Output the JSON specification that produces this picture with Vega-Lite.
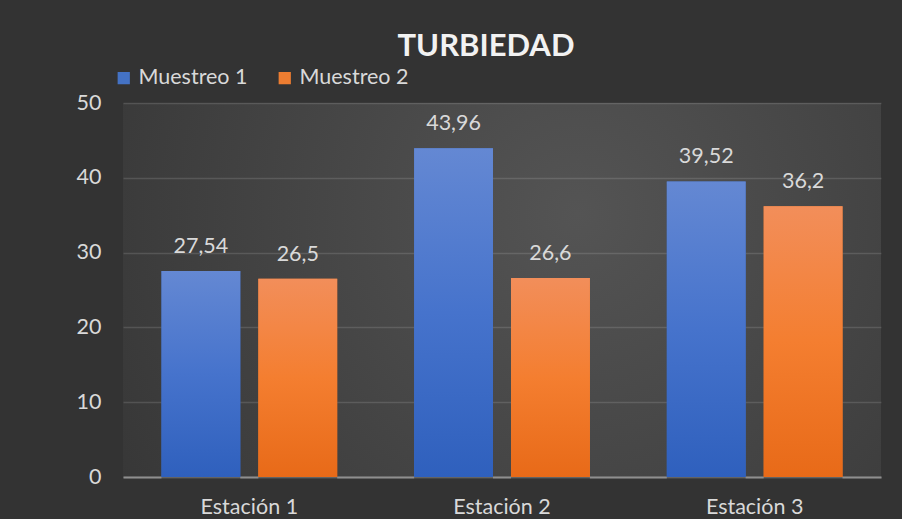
{
  "$schema": "https://vega.github.io/schema/vega-lite/v6.json",
  "width": 758,
  "height": 374,
  "autosize": {"type": "none"},
  "padding": {"left": 123, "top": 103, "right": 21, "bottom": 42},
  "background": "#333333",
  "data": {
    "values": [
      {"estacion": "Estación 1", "serie": "Muestreo 1", "valor": 27.54, "etiqueta": "27,54"},
      {"estacion": "Estación 1", "serie": "Muestreo 2", "valor": 26.5, "etiqueta": "26,5"},
      {"estacion": "Estación 2", "serie": "Muestreo 1", "valor": 43.96, "etiqueta": "43,96"},
      {"estacion": "Estación 2", "serie": "Muestreo 2", "valor": 26.6, "etiqueta": "26,6"},
      {"estacion": "Estación 3", "serie": "Muestreo 1", "valor": 39.52, "etiqueta": "39,52"},
      {"estacion": "Estación 3", "serie": "Muestreo 2", "valor": 36.2, "etiqueta": "36,2"}
    ]
  },
  "title": {
    "text": "TURBIEDAD",
    "font": "Lato",
    "fontSize": 31,
    "fontWeight": "bold",
    "color": "#f2f2f2",
    "anchor": "middle",
    "dx": -16,
    "offset": 4
  },
  "encoding": {
    "x": {
      "field": "estacion",
      "type": "nominal",
      "scale": {"paddingInner": 0, "paddingOuter": 0},
      "axis": {
        "title": null,
        "labelAngle": 0,
        "labelFont": "Lato",
        "labelFontSize": 21.5,
        "labelColor": "#d9d9d9",
        "labelPadding": 19,
        "ticks": false,
        "domainColor": "#8f8f8f",
        "domainWidth": 2,
        "grid": false
      }
    },
    "xOffset": {
      "field": "serie",
      "type": "nominal",
      "scale": {"paddingInner": 0.186, "paddingOuter": 0.397}
    },
    "y": {
      "field": "valor",
      "type": "quantitative",
      "scale": {"domain": [0, 50]},
      "axis": {
        "title": null,
        "values": [0, 10, 20, 30, 40, 50],
        "labelFont": "Lato",
        "labelFontSize": 21.5,
        "labelColor": "#d9d9d9",
        "labelPadding": 22,
        "ticks": false,
        "domain": false,
        "gridColor": "#ffffff",
        "gridOpacity": 0.13,
        "gridWidth": 1.5
      }
    }
  },
  "layer": [
    {
      "mark": {"type": "bar", "color": "#000000", "opacity": 0.3, "xOffset": 4, "yOffset": 2},
      "encoding": {}
    },
    {
      "mark": {"type": "bar"},
      "encoding": {
        "color": {
          "field": "serie",
          "type": "nominal",
          "scale": {"range": ["#4472c4", "#ed7d31"]},
          "legend": {
            "title": null,
            "orient": "none",
            "legendX": -10,
            "legendY": -36,
            "direction": "horizontal",
            "symbolType": "square",
            "symbolSize": 150,
            "symbolStrokeWidth": 0,
            "symbolOpacity": 1,
            "labelFont": "Lato",
            "labelFontSize": 21.5,
            "labelColor": "#d9d9d9",
            "labelOffset": 4,
            "columnPadding": 26
          }
        }
      }
    },
    {
      "mark": {"type": "bar"},
      "encoding": {
        "color": {
          "condition": {
            "test": "datum.serie === 'Muestreo 1'",
            "value": {
              "gradient": "linear", "x1": 0, "y1": 0, "x2": 0, "y2": 1,
              "stops": [
                {"offset": 0, "color": "#6488d3"},
                {"offset": 0.5, "color": "#4673cc"},
                {"offset": 1, "color": "#2f60bd"}
              ]
            }
          },
          "value": {
            "gradient": "linear", "x1": 0, "y1": 0, "x2": 0, "y2": 1,
            "stops": [
              {"offset": 0, "color": "#f28e5a"},
              {"offset": 0.5, "color": "#f47e30"},
              {"offset": 1, "color": "#e86a18"}
            ]
          }
        }
      }
    },
    {
      "mark": {"type": "text", "font": "Lato", "fontSize": 21.5, "color": "#d9d9d9", "baseline": "alphabetic", "dy": -18},
      "encoding": {
        "text": {"field": "etiqueta", "type": "nominal"}
      }
    }
  ],
  "config": {
    "view": {
      "stroke": null,
      "fill": {
        "gradient": "radial", "x1": 0.6, "y1": 0.4, "r1": 0, "x2": 0.6, "y2": 0.4, "r2": 0.75,
        "stops": [
          {"offset": 0, "color": "#545454"},
          {"offset": 1, "color": "#353535"}
        ]
      }
    }
  }
}
